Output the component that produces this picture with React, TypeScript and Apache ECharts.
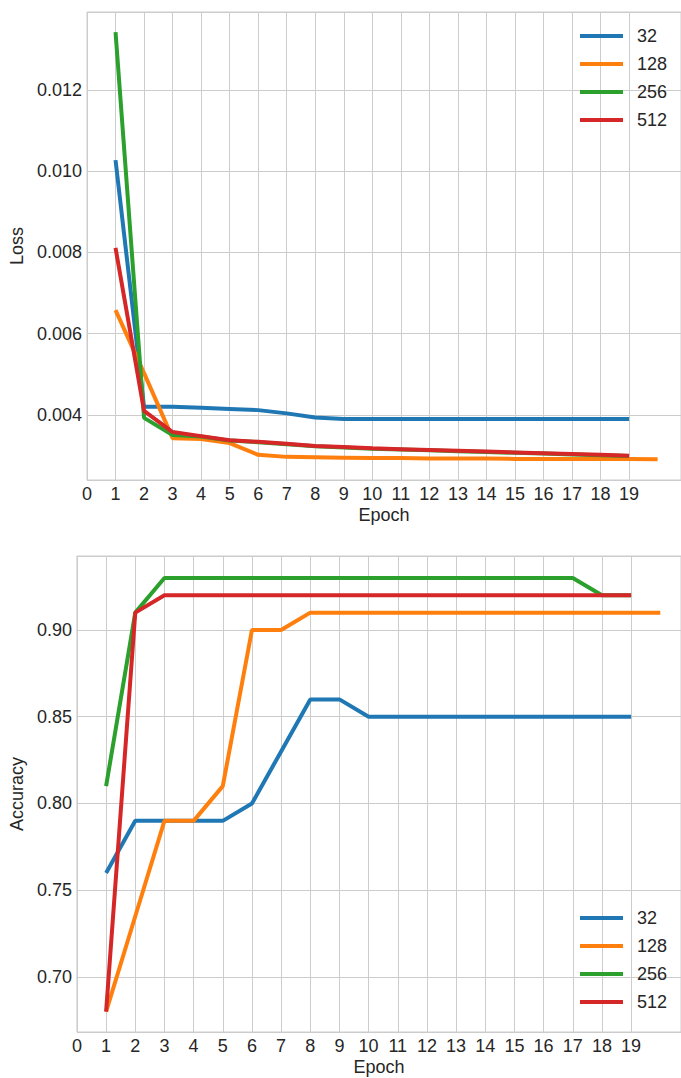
import React, { useEffect, useRef } from "react";
import * as echarts from "echarts";

const seriesNames = ["32", "128", "256", "512"];
const colors = ["#1f77b4", "#ff7f0e", "#2ca02c", "#d62728"];
const xTickLabels = ["0","1","2","3","4","5","6","7","8","9","10","11","12","13","14","15","16","17","18","19"];

const epochs19 = [1,2,3,4,5,6,7,8,9,10,11,12,13,14,15,16,17,18,19];
const epochs20 = [1,2,3,4,5,6,7,8,9,10,11,12,13,14,15,16,17,18,19,20];

const loss32 = [0.01027,0.0042,0.0042,0.00418,0.00415,0.00412,0.00404,0.00394,0.0039,0.0039,0.0039,0.0039,0.0039,0.0039,0.0039,0.0039,0.0039,0.0039,0.0039];
const loss128 = [0.00658,0.00503,0.00343,0.00341,0.00331,0.00302,0.00297,0.00296,0.00295,0.00294,0.00294,0.00293,0.00293,0.00293,0.00292,0.00292,0.00292,0.00292,0.00292,0.00291];
const loss256 = [0.01342,0.00393,0.00351,0.00347,0.00337,0.00333,0.00328,0.00323,0.0032,0.00317,0.00315,0.00313,0.00311,0.00309,0.00307,0.00305,0.00303,0.00301,0.00299];
const loss512 = [0.00811,0.0041,0.00358,0.00348,0.00338,0.00334,0.00329,0.00324,0.00321,0.00318,0.00316,0.00314,0.00312,0.0031,0.00308,0.00306,0.00304,0.00302,0.003];

const acc32 = [0.76,0.79,0.79,0.79,0.79,0.80,0.83,0.86,0.86,0.85,0.85,0.85,0.85,0.85,0.85,0.85,0.85,0.85,0.85];
const acc128 = [0.68,0.735,0.79,0.79,0.81,0.90,0.90,0.91,0.91,0.91,0.91,0.91,0.91,0.91,0.91,0.91,0.91,0.91,0.91,0.91];
const acc256 = [0.81,0.91,0.93,0.93,0.93,0.93,0.93,0.93,0.93,0.93,0.93,0.93,0.93,0.93,0.93,0.93,0.93,0.92,0.92];
const acc512 = [0.68,0.91,0.92,0.92,0.92,0.92,0.92,0.92,0.92,0.92,0.92,0.92,0.92,0.92,0.92,0.92,0.92,0.92,0.92];

const FONT = "'Liberation Sans', Arial, sans-serif";
const TEXT = "#262626";
const GRID = "#cccccc";

function pairs(xs: number[], ys: number[]) {
  return ys.map((y, i) => [xs[i], y]);
}

export default function App() {
  const ref = useRef<HTMLDivElement>(null);
  useEffect(() => {
    if (!ref.current) return;
    const chart = echarts.init(ref.current, null, { renderer: "svg" });
    const splitColors: string[] = [];
    for (let i = 0; i < 22; i++) splitColors.push(i === 20 ? "rgba(0,0,0,0)" : GRID);

    const xAxisBase = (gridIndex: number, max: number) => ({
      type: "value" as const,
      gridIndex,
      min: 0,
      max,
      interval: 1,
      name: "Epoch",
      nameLocation: "middle" as const,
      nameGap: 26,
      nameTextStyle: { fontFamily: FONT, fontSize: 18, color: TEXT },
      axisLine: { show: false },
      axisTick: { show: false },
      axisLabel: {
        fontFamily: FONT,
        fontSize: 18,
        color: TEXT,
        margin: 5,
        showMaxLabel: false,
        formatter: (v: number) => (Number.isInteger(v) && v <= 19 ? xTickLabels[v] : ""),
      },
      splitLine: { show: true, lineStyle: { color: splitColors, width: 1 } },
    });

    const yAxisBase = (gridIndex: number, min: number, max: number, name: string, gap: number, digits: number) => ({
      type: "value" as const,
      gridIndex,
      min,
      max,
      splitNumber: 5,
      name,
      nameLocation: "middle" as const,
      nameGap: gap,
      nameTextStyle: { fontFamily: FONT, fontSize: 18, color: TEXT },
      axisLine: { show: false },
      axisTick: { show: false },
      axisLabel: {
        fontFamily: FONT,
        fontSize: 18,
        color: TEXT,
        margin: 5,
        showMinLabel: false,
        showMaxLabel: false,
        formatter: (v: number) => v.toFixed(digits),
      },
      splitLine: { show: true, lineStyle: { color: GRID, width: 1 } },
    });

    const lossData = [pairs(epochs19, loss32), pairs(epochs20, loss128), pairs(epochs19, loss256), pairs(epochs19, loss512)];
    const accData = [pairs(epochs19, acc32), pairs(epochs20, acc128), pairs(epochs19, acc256), pairs(epochs19, acc512)];

    const mkSeries = (data: number[][][], idx: number) =>
      data.map((d, i) => ({
        type: "line" as const,
        name: seriesNames[i],
        xAxisIndex: idx,
        yAxisIndex: idx,
        data: d,
        showSymbol: false,
        symbol: "none",
        color: colors[i],
        lineStyle: { width: 4, color: colors[i] },
        z: 3 + i,
      }));

    const legendBase = (top: number) => ({
      orient: "vertical" as const,
      left: 580,
      top,
      padding: 0,
      icon: "rect",
      itemWidth: 43,
      itemHeight: 4,
      itemGap: 10,
      data: seriesNames,
      textStyle: { fontFamily: FONT, fontSize: 18, color: TEXT, lineHeight: 18, padding: [0, 0, 0, 9] },
    });

    chart.setOption({
      animation: false,
      backgroundColor: "#ffffff",
      grid: [
        { left: 87, top: 12, width: 595, height: 468, show: true, borderColor: GRID, borderWidth: 1, backgroundColor: "transparent" },
        { left: 76, top: 556, width: 606, height: 476, show: true, borderColor: GRID, borderWidth: 1, backgroundColor: "transparent" },
      ],
      xAxis: [xAxisBase(0, 20.82), xAxisBase(1, 20.71)],
      yAxis: [
        yAxisBase(0, 0.002401, 0.013914, "Loss", 59, 3),
        yAxisBase(1, 0.6683, 0.94265, "Accuracy", 48, 2),
      ],
      legend: [legendBase(27), legendBase(909)],
      series: [...mkSeries(lossData, 0), ...mkSeries(accData, 1)],
    });
    return () => chart.dispose();
  }, []);
  return (
    <div
      ref={ref}
      style={{ position: "absolute", left: 0, top: 0, width: 681, height: 1078 }}
    />
  );
}
